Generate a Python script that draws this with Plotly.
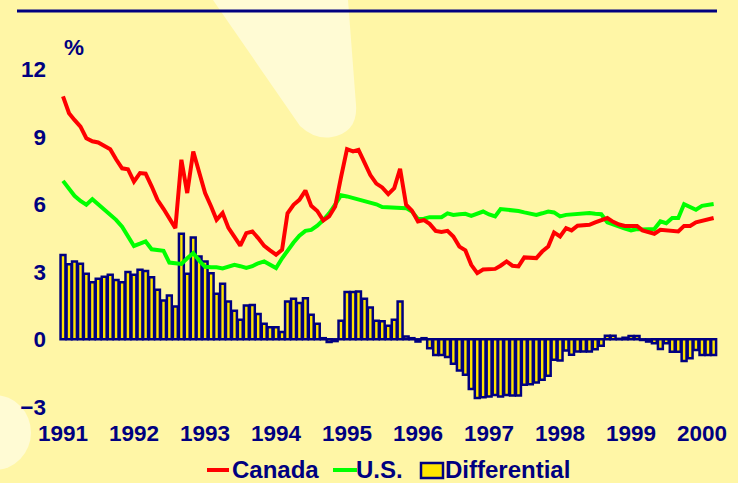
import pandas as pd
import plotly.graph_objects as go

# monthly data, Jan 1991 - Mar 2000 (% values)
canada = [
    10.8, 10.05, 9.75, 9.45, 8.94, 8.8, 8.75, 8.6, 8.45, 8.0, 7.6, 7.56,
    7.01, 7.39, 7.36, 6.8, 6.2, 5.8, 5.4, 4.94, 7.98, 6.5, 8.35, 7.39,
    6.5, 5.9, 5.31, 5.61, 4.95, 4.55, 4.16, 4.72, 4.79, 4.5, 4.15, 3.95,
    3.76, 3.98, 5.6, 5.98, 6.2, 6.61, 5.93, 5.7, 5.28, 5.46, 5.9, 7.2,
    8.45, 8.35, 8.42, 7.85, 7.3, 6.92, 6.75, 6.45, 6.72, 7.58, 5.98, 5.72,
    5.24, 5.3, 5.13, 4.82, 4.77, 4.82, 4.57, 4.12, 3.95, 3.31, 2.94, 3.1,
    3.13, 3.13, 3.27, 3.46, 3.27, 3.24, 3.64, 3.63, 3.61, 3.9, 4.12, 4.75,
    4.57, 4.94, 4.84, 5.05, 5.09, 5.09, 5.2, 5.3, 5.39, 5.22, 5.1, 5.04,
    5.04, 5.04, 4.84, 4.77, 4.69, 4.87, 4.83, 4.8, 4.79, 5.04, 5.04, 5.2,
    5.28, 5.32, 5.39,
]
us = [
    7.04, 6.7, 6.38, 6.15, 5.98, 6.23, 6.0, 5.76, 5.55, 5.31, 5.0, 4.6,
    4.15, 4.25, 4.35, 4.0, 3.97, 3.93, 3.41, 3.39, 3.35, 3.6, 3.83, 3.5,
    3.22, 3.2, 3.2, 3.15, 3.25, 3.31, 3.25, 3.17, 3.25, 3.38, 3.46, 3.3,
    3.17, 3.6, 3.95, 4.3, 4.6, 4.82, 4.86, 5.05, 5.3, 5.6, 5.98, 6.4,
    6.35, 6.28, 6.24, 6.15, 6.08, 6.0, 5.88, 5.86, 5.86, 5.86, 5.83, 5.68,
    5.35, 5.36, 5.43, 5.43, 5.43, 5.6, 5.53, 5.56, 5.58, 5.49, 5.6, 5.68,
    5.55, 5.46, 5.79, 5.77, 5.75, 5.7, 5.64, 5.58, 5.53, 5.6, 5.68, 5.64,
    5.46, 5.53, 5.55, 5.58, 5.6, 5.61, 5.58, 5.56, 5.2, 5.1, 4.99, 4.92,
    4.84, 4.9, 4.88, 4.87, 4.9, 5.24, 5.16, 5.39, 5.39, 6.01, 5.9, 5.76,
    5.93, 5.97, 6.01,
]
differential = [
    3.75, 3.34, 3.46, 3.36, 2.91, 2.54, 2.69, 2.78, 2.87, 2.64, 2.54, 2.99,
    2.87, 3.09, 3.04, 2.76, 2.2, 1.73, 1.95, 1.46, 4.69, 2.91, 4.53, 3.68,
    3.46, 2.94, 2.02, 2.47, 1.68, 1.27, 0.87, 1.5, 1.53, 1.12, 0.69, 0.54,
    0.54, 0.32, 1.68, 1.8, 1.61, 1.83, 1.09, 0.69, 0.05, -0.12, -0.08, 0.82,
    2.1, 2.1, 2.12, 1.8, 1.41, 0.82, 0.8, 0.6, 0.87, 1.68, 0.12, 0.05,
    -0.1, 0.05, -0.4, -0.7, -0.7, -0.79, -1.09, -1.39, -1.58, -2.21, -2.61, -2.57,
    -2.54, -2.47, -2.54, -2.47, -2.5, -2.5, -2.02, -2.0, -1.92, -1.8, -1.62, -0.91,
    -0.94, -0.5, -0.69, -0.54, -0.54, -0.54, -0.44, -0.29, 0.16, 0.16, 0.02, 0.07,
    0.15, 0.15, -0.03, -0.1, -0.18, -0.43, -0.18, -0.55, -0.55, -0.96, -0.84, -0.47,
    -0.7, -0.7, -0.7,
]
months = pd.date_range("1991-01-01", periods=len(canada), freq="MS")
year_ticks = pd.date_range("1991-01-01", "2000-01-01", freq="YS")
year_labels = [str(d.year) for d in year_ticks]
y_ticks = [-3, 0, 3, 6, 9, 12]

NAVY = "#000080"
BG = "#FFF6A6"
PALE = "#FFFBD4"
RED, GREEN, BAR_FILL = "#FF0000", "#00FF00", "#FFE400"
FONT = dict(family="Arial, Liberation Sans", size=22.5, color=NAVY, weight="bold")
LEGEND_FONT = dict(FONT, size=24)

# plot area in pixels: x 56..722, y 40..417
L, R, T, B = 56, 16, 40, 66
W, H = 738, 483
PW, PH = W - L - R, H - T - B
ZERO_Y, PX_PER_UNIT = 339.3, 22.5   # where 0 sits and the vertical scale


def px(x):
    return (x - L) / PW


def py(y):
    return (H - B - y) / PH


fig = go.Figure()

fig.add_trace(go.Bar(
    x=months, y=differential, name="Differential",
    marker=dict(color=BAR_FILL, line=dict(color=NAVY, width=2.5)),
))
fig.add_trace(go.Scatter(
    x=months, y=us, name="U.S.", mode="lines",
    line=dict(color=GREEN, width=4),
))
fig.add_trace(go.Scatter(
    x=months, y=canada, name="Canada", mode="lines",
    line=dict(color=RED, width=4),
))

# background decorations: spotlight beam, corner blob, top rule
beam = "M {},{} L {},{} Q {},{} {},{} Q {},{} {},{} L {},{} Z".format(
    px(213), py(0), px(300), py(126), px(315), py(140), px(332), py(137),
    px(358), py(132), px(356), py(105), px(348), py(0))
fig.add_shape(type="path", path=beam, xref="paper", yref="paper",
              fillcolor=PALE, line_width=0, layer="below")
fig.add_shape(type="circle", xref="paper", yref="paper",
              x0=px(-42), x1=px(31), y0=py(470), y1=py(395),
              fillcolor=PALE, line_width=0, layer="below")
fig.add_shape(type="line", xref="paper", yref="paper",
              x0=px(17), x1=px(717), y0=py(11), y1=py(11),
              line=dict(color=NAVY, width=3))

fig.add_annotation(text="%", xref="paper", yref="paper", x=px(74), y=py(47),
                   xanchor="center", yanchor="middle", showarrow=False, font=FONT)

# legend row drawn by hand so it sits right at the bottom edge
LEG_Y = py(470)
fig.add_shape(type="line", xref="paper", yref="paper", x0=px(207), x1=px(229),
              y0=LEG_Y, y1=LEG_Y, line=dict(color=RED, width=4))
fig.add_shape(type="line", xref="paper", yref="paper", x0=px(333), x1=px(357),
              y0=LEG_Y, y1=LEG_Y, line=dict(color=GREEN, width=4))
fig.add_shape(type="rect", xref="paper", yref="paper", x0=px(421), x1=px(443),
              y0=py(478), y1=py(463), fillcolor=BAR_FILL, line=dict(color=NAVY, width=2.5))
for label, left in [("Canada", 232), ("U.S.", 356), ("Differential", 445)]:
    fig.add_annotation(text=label, xref="paper", yref="paper", x=px(left), y=py(H - 0.5),
                       xanchor="left", yanchor="bottom", showarrow=False,
                       borderpad=0, borderwidth=0, font=LEGEND_FONT)

fig.update_layout(
    width=W, height=H,
    margin=dict(l=L, r=R, t=T, b=B),
    paper_bgcolor=BG, plot_bgcolor="rgba(0,0,0,0)",
    font=FONT,
    bargap=0.1,
    showlegend=False,
    xaxis=dict(
        type="date",
        range=["1990-11-26", "2000-04-13"],
        tickvals=year_ticks, ticktext=year_labels,
        showgrid=False, zeroline=False, showline=False, ticks="",
        automargin=False,
        tickfont=FONT,
    ),
    yaxis=dict(
        range=[(ZERO_Y - (H - B)) / PX_PER_UNIT, (ZERO_Y - T) / PX_PER_UNIT],
        tickvals=y_ticks,
        showgrid=False, zeroline=False, showline=False, ticks="",
        ticklabelstandoff=9, automargin=False,
        tickfont=FONT,
    ),
)

fig.write_html("out.html", config={"displayModeBar": False},
               post_script="document.body.style.margin = '0';")
